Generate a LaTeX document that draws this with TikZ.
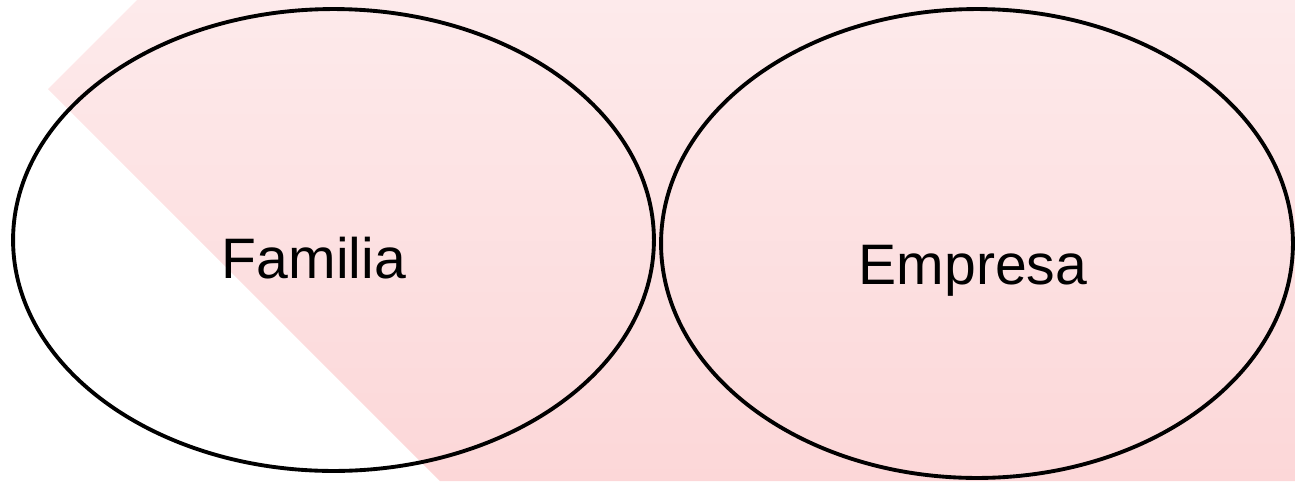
\documentclass[tikz,border=0pt]{standalone}
\usepackage{fontspec}
\setmainfont{Liberation Sans}
\usepackage{tikz}
\usetikzlibrary{shapes.geometric}

\definecolor{pinktop}{RGB}{253,234,235}
\definecolor{pinkbot}{RGB}{252,215,216}

\begin{document}
\begin{tikzpicture}[x=0.02cm, y=-0.02cm,
      ov/.style={draw, ellipse, line width=2.2pt, inner sep=0pt},
      lb/.style={font=\fontsize{32.5}{39}\selectfont, anchor=base, inner sep=0pt}]
      \useasboundingbox (0,0) rectangle (1295,481);
      \shade[top color=pinktop, bottom color=pinkbot]
        (137,0) -- (1295,0) -- (1295,481) -- (440,481) -- (48,89) -- cycle;
      \node[ov, minimum width=12.82cm, minimum height=9.24cm] (fam) at (333.5,240) {};
      \node[ov, minimum width=12.64cm, minimum height=9.38cm] (emp) at (977,243.5) {};
      \node[lb] (famtxt) at (314,278) {Familia};
      \node[lb] (emptxt) at (973,284) {Empresa};
    \end{tikzpicture}
\end{document}
